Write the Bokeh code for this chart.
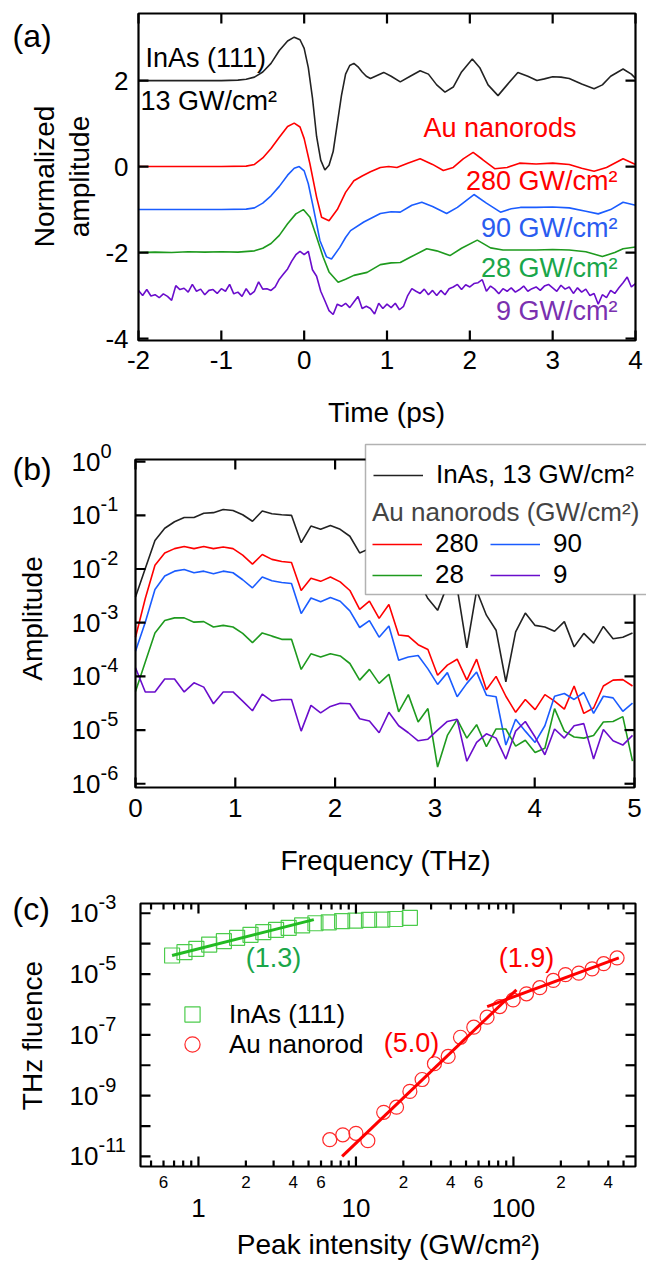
import math
from bokeh.plotting import figure
from bokeh.models import (Range1d, FixedTicker, LinearAxis, LogAxis, Label,
                          Legend, LegendItem, BoxAnnotation)
from bokeh.layouts import column
from bokeh.embed import file_html
from bokeh.resources import INLINE

FONT = "Liberation Sans"

# ===================== panel (a): time-domain waveforms =====================
offsets_a = [2, 0, -1, -2, -3]
labels_a = ["13 GW/cm²", "280 GW/cm²", "90 GW/cm²", "28 GW/cm²", "9 GW/cm²"]

time_inas = [-2.0, -1.0, -0.8, -0.7, -0.6, -0.5, -0.4, -0.3, -0.2, -0.12, -0.05, 0.0, 0.05, 0.1,
             0.15, 0.2, 0.25, 0.3, 0.35, 0.4, 0.45, 0.5, 0.55, 0.6, 0.65, 0.7, 0.75, 0.8, 0.88,
             0.96, 1.05, 1.16, 1.28, 1.4, 1.5, 1.6, 1.7, 1.8, 1.9, 2.03, 2.12, 2.22, 2.34, 2.45,
             2.58, 2.7, 2.81, 2.9, 3.0, 3.1, 3.2, 3.35, 3.5, 3.6, 3.7, 3.85, 3.95, 4.0]
wave_inas = [0, 0, 0.01, 0.03, 0.08, 0.2, 0.4, 0.7, 0.92, 1.01, 0.95, 0.75, 0.3, -0.4,
             -1.3, -1.85, -2.08, -1.97, -1.65, -1.0, -0.35, 0.15, 0.35, 0.4, 0.32, 0.2, 0.1, 0.05, 0.12,
             0.19, 0.1, -0.03, 0.1, 0.23, 0.15, -0.1, -0.27, -0.15, 0.2, 0.5, 0.3, -0.1, -0.35, -0.1,
             0.19, 0.1, 0.0, 0.04, 0.09, 0.08, 0.05, -0.08, -0.19, -0.1, 0.1, 0.27, 0.15, 0.05]

time_280 = [-2, -1, -0.7, -0.6, -0.5, -0.4, -0.3, -0.2, -0.12, -0.05, 0.0, 0.07, 0.15, 0.21, 0.3,
            0.4, 0.5, 0.6, 0.7, 0.8, 0.92, 1.02, 1.12, 1.25, 1.4, 1.55, 1.68, 1.8, 1.92, 2.04,
            2.15, 2.3, 2.45, 2.6, 2.8, 3.0, 3.2, 3.35, 3.5, 3.65, 3.85, 4.0]
wave_280 = [0, 0, 0.01, 0.05, 0.2, 0.42, 0.68, 0.93, 1.01, 0.92, 0.65, 0.06, -0.71, -1.18, -1.26,
            -1.0, -0.6, -0.33, -0.22, -0.12, -0.02, 0.0, -0.02, 0.08, 0.18, 0.05, -0.09, -0.02, 0.18, 0.33,
            0.17, -0.05, -0.02, 0.08, 0.06, 0.08, 0.05, -0.04, -0.11, -0.02, 0.18, 0.05]

time_90 = [-2, -1, -0.7, -0.6, -0.5, -0.4, -0.3, -0.2, -0.12, -0.06, 0.0, 0.05, 0.11, 0.19, 0.27,
           0.33, 0.43, 0.5, 0.56, 0.72, 0.92, 1.05, 1.16, 1.3, 1.42, 1.55, 1.72, 1.85, 2.05, 2.2,
           2.37, 2.5, 2.61, 2.8, 3.0, 3.2, 3.4, 3.55, 3.7, 3.85, 4.0]
wave_90 = [0.0, 0.0, 0.01, 0.04, 0.15, 0.32, 0.54, 0.8, 0.96, 1.0, 0.9, 0.6, 0.05, -0.72, -1.1,
           -1.15, -0.88, -0.65, -0.49, -0.29, -0.09, -0.05, -0.06, 0.1, 0.17, 0.07, -0.09, 0.05, 0.35, 0.15,
           -0.06, 0.02, 0.05, 0.05, 0.06, 0.04, -0.04, -0.10, 0.0, 0.17, 0.1]

time_28 = [-2.0, -1.8, -1.6, -1.4, -1.2, -1.0, -0.8, -0.6, -0.5, -0.4, -0.3, -0.2, -0.1, -0.01,
           0.07, 0.15, 0.23, 0.3, 0.41, 0.5, 0.6, 0.76, 0.92, 1.05, 1.16, 1.28, 1.48, 1.6, 1.76,
           1.9, 2.09, 2.25, 2.4, 2.61, 2.8, 3.0, 3.2, 3.4, 3.6, 3.75, 3.85, 4.0]
wave_28 = [0.0, 0.01, 0.0, 0.02, 0.01, 0.02, 0.01, 0.04, 0.1, 0.21, 0.4, 0.67, 0.9, 1.0,
           0.82, 0.36, -0.11, -0.45, -0.69, -0.62, -0.53, -0.46, -0.28, -0.24, -0.23, -0.11, 0.09, 0.04, -0.07,
           0.1, 0.29, 0.11, 0.06, 0.06, 0.06, 0.07, 0.06, 0.02, -0.09, 0.0, 0.09, 0.13]

time_9 = [-2.0, -1.95, -1.9, -1.85, -1.8, -1.75, -1.7, -1.65, -1.6, -1.55, -1.5, -1.45, -1.4, -1.35,
          -1.3, -1.25, -1.2, -1.15, -1.1, -1.05, -1.0, -0.95, -0.9, -0.85, -0.8, -0.75, -0.7, -0.65,
          -0.6, -0.55, -0.5, -0.45, -0.4, -0.35, -0.3, -0.25, -0.2, -0.15, -0.1, -0.05, 0.0, 0.05,
          0.1, 0.15, 0.2, 0.25, 0.3, 0.35, 0.4, 0.45, 0.5, 0.55, 0.6, 0.65, 0.7, 0.75, 0.8, 0.85,
          0.9, 0.95, 1.0, 1.05, 1.1, 1.15, 1.2, 1.25, 1.3, 1.35, 1.4, 1.45, 1.5, 1.55, 1.6, 1.65,
          1.7, 1.75, 1.8, 1.85, 1.9, 1.95, 2.0, 2.05, 2.1, 2.15, 2.2, 2.25, 2.3, 2.35, 2.4, 2.45,
          2.5, 2.55, 2.6, 2.65, 2.7, 2.75, 2.8, 2.85, 2.9, 2.95, 3.0, 3.05, 3.1, 3.15, 3.2, 3.25,
          3.3, 3.35, 3.4, 3.45, 3.5, 3.55, 3.6, 3.65, 3.7, 3.75, 3.8, 3.85, 3.9, 3.95, 4.0]
wave_9 = [0.12, 0.00, 0.14, -0.01, 0.02, -0.05, 0.04, -0.02, -0.11, 0.23,
          0.14, 0.17, 0.08, 0.26, 0.10, 0.15, 0.02, 0.12, 0.14, 0.05,
          0.16, 0.10, 0.26, 0.04, 0.08, -0.02, 0.16, 0.02, 0.10, 0.32,
          0.15, 0.16, 0.12, 0.20, 0.38, 0.50, 0.62, 0.80, 0.95, 1.03,
          0.95, 1.03, 0.60, 0.45, 0.10, -0.12, -0.35, -0.44, -0.20, -0.25,
          -0.18, -0.28, -0.15, -0.02, -0.30, -0.25, -0.30, -0.43, -0.18, -0.30,
          -0.20, -0.28, -0.18, -0.33, -0.25, 0.00, 0.16, 0.10, 0.05, 0.15,
          0.02, 0.12, 0.00, 0.12, 0.02, 0.16, 0.20, 0.26, 0.14, 0.25,
          0.20, 0.28, 0.30, 0.37, 0.10, 0.22, 0.15, 0.04, 0.16, 0.10,
          0.18, 0.08, 0.14, 0.22, 0.10, 0.16, 0.20, 0.12, 0.22, 0.26,
          0.18, 0.10, 0.24, 0.15, 0.20, 0.05, 0.18, 0.08, 0.15, 0.00,
          0.05, -0.20, 0.02, -0.05, 0.12, 0.05, 0.18, 0.30, 0.43, 0.20,
          0.28]

# ===================== panel (b): spectra (log10 amplitude) =====================
freq_thz = [0.000, 0.098, 0.195, 0.293, 0.391, 0.488, 0.586, 0.684, 0.781, 0.879, 0.977, 1.074,
            1.172, 1.270, 1.367, 1.465, 1.563, 1.660, 1.758, 1.855, 1.953, 2.051, 2.148, 2.246,
            2.344, 2.441, 2.539, 2.637, 2.734, 2.832, 2.930, 3.027, 3.125, 3.223, 3.320, 3.418,
            3.516, 3.613, 3.711, 3.809, 3.906, 4.004, 4.102, 4.199, 4.297, 4.395, 4.492, 4.590,
            4.688, 4.785, 4.883, 4.980]
log_amp_inas = [-2.52, -1.99, -1.47, -1.24, -1.12, -1.04, -1.04, -0.96, -0.95, -0.89,
                -0.91, -0.99, -1.11, -0.92, -0.97, -0.99, -1.00, -1.51, -1.20, -1.26,
                -1.19, -1.26, -1.39, -1.70, -1.62, -1.85, -1.80, -2.05, -2.10, -2.20,
                -2.55, -2.77, -2.30, -2.35, -3.47, -2.40, -2.86, -3.14, -4.10, -3.17,
                -2.82, -3.05, -3.08, -3.16, -2.98, -3.45, -3.20, -3.38, -3.07, -3.30,
                -3.27, -3.19]
log_amp_280 = [-3.27, -2.55, -1.93, -1.70, -1.62, -1.58, -1.62, -1.58, -1.62, -1.59,
               -1.62, -1.74, -1.91, -1.73, -1.82, -1.86, -1.88, -2.40, -2.17, -2.23,
               -2.15, -2.24, -2.40, -2.75, -2.60, -2.92, -2.66, -3.23, -3.25, -3.41,
               -3.50, -3.98, -3.79, -3.68, -4.07, -3.68, -4.25, -4.00, -4.37, -4.67,
               -4.43, -4.62, -4.34, -4.46, -4.61, -4.18, -4.69, -4.59, -4.18, -4.07,
               -4.06, -4.18]
log_amp_90 = [-3.53, -2.99, -2.38, -2.13, -2.04, -2.01, -2.07, -2.04, -2.09, -2.04,
              -2.07, -2.20, -2.35, -2.15, -2.22, -2.25, -2.27, -2.83, -2.54, -2.61,
              -2.53, -2.60, -2.78, -3.09, -2.96, -3.27, -3.06, -3.70, -3.64, -3.61,
              -3.86, -4.15, -3.93, -4.38, -4.13, -3.92, -4.35, -4.38, -5.28, -4.80,
              -5.02, -5.23, -4.92, -4.37, -4.32, -4.43, -4.30, -4.69, -4.37, -4.40,
              -4.65, -4.50]
log_amp_28 = [-4.28, -3.73, -3.19, -2.96, -2.91, -2.91, -2.99, -2.98, -3.08, -3.05,
              -3.08, -3.20, -3.37, -3.19, -3.25, -3.31, -3.31, -3.87, -3.58, -3.64,
              -3.58, -3.62, -3.76, -4.07, -3.87, -4.13, -3.96, -4.66, -4.34, -4.85,
              -4.60, -5.69, -5.10, -4.80, -5.15, -4.90, -5.31, -4.98, -4.98, -5.30,
              -5.19, -5.42, -5.34, -4.60, -5.02, -5.13, -5.15, -5.10, -4.85, -4.84,
              -4.75, -5.58]
log_amp_9 = [-3.84, -4.29, -4.29, -4.05, -4.05, -4.29, -4.12, -4.20, -4.51, -4.29,
             -4.29, -4.46, -4.64, -4.33, -4.46, -4.43, -4.43, -5.02, -4.54, -4.68,
             -4.56, -4.50, -4.51, -4.79, -4.83, -5.05, -4.67, -4.92, -5.05, -5.20,
             -5.17, -5.00, -4.84, -4.80, -5.58, -5.23, -5.07, -5.15, -5.54, -5.02,
             -4.84, -5.13, -5.46, -4.98, -5.15, -4.92, -4.88, -5.54, -4.99, -5.20,
             -5.28, -5.10]
legend_b_au = ["280", "90", "28", "9"]

# ===================== panel (c): THz fluence vs peak intensity =====================
inas_intensity = [0.68, 0.815, 0.97, 1.17, 1.45, 1.76, 2.14, 2.58, 3.11, 3.74, 4.55, 5.53,
                  6.72, 8.17, 9.93, 12.1, 14.7, 17.8, 22.0]
inas_fluence = [4.07e-5, 5.25e-5, 6.76e-5, 9.33e-5, 1.20e-4, 1.55e-4, 1.95e-4, 2.40e-4,
                2.82e-4, 3.31e-4, 3.98e-4, 4.68e-4, 5.01e-4, 5.50e-4, 5.75e-4, 6.03e-4,
                6.17e-4, 6.46e-4, 7.08e-4]
au_intensity = [6.82, 8.25, 10.0, 11.9, 15.0, 18.1, 22.0, 26.3, 31.5, 38.5, 46.1, 56.0, 68.0,
                81.9, 99.6, 121, 147, 179, 214, 260, 316, 374, 455]
au_fluence = [3.55e-11, 5.13e-11, 5.75e-11, 3.31e-11, 2.82e-10, 4.17e-10, 1.38e-9, 3.39e-9,
              1.12e-8, 1.95e-8, 8.32e-8, 1.78e-7, 3.80e-7, 8.51e-7, 1.41e-6, 2.24e-6, 3.55e-6,
              6.17e-6, 9.55e-6, 1.07e-5, 1.48e-5, 2.19e-5, 3.39e-5]
fit_inas_i = [0.68, 5.4]
fit_inas_f = [4.07e-5, 6.17e-4]
fit_au_low_i = [8.17, 104.5]
fit_au_low_f = [1.0e-11, 3.02e-6]
fit_au_high_i = [68.1, 467]
fit_au_high_f = [8.51e-7, 3.39e-5]
slope_labels = ["(1.3)", "(5.0)", "(1.9)"]

# ===================== styling =====================
C_BLACK = "#222222"
C_RED = "#ff0000"
C_BLUE = "#1a5cff"
C_GREEN = "#1e9a1e"
C_PURPLE = "#6a0dcc"
T_BLUE = "#2a5cf0"
T_GREEN = "#1aa64a"
T_PURPLE = "#7a30b0"
line_colors = [C_BLACK, C_RED, C_BLUE, C_GREEN, C_PURPLE]
text_colors = ["black", C_RED, T_BLUE, T_GREEN, T_PURPLE]

TICK_PX = 26
TITLE_PX = 28
ANN_PX = 27
SUP_PX = 20
PAGE_W = 646
BOX_W = 2.2


def base_fig(h, xr, yr, xtype="linear", ytype="linear"):
    # the frame covers the whole canvas; the visible plot box is drawn inside it
    p = figure(frame_width=PAGE_W, frame_height=h, x_range=xr, y_range=yr,
               x_axis_type=xtype, y_axis_type=ytype,
               x_axis_location=None, y_axis_location=None, title=None,
               output_backend="svg", toolbar_location=None, min_border=0)
    p.xgrid.visible = False
    p.ygrid.visible = False
    p.outline_line_color = None
    p.background_fill_color = "white"
    p.border_fill_color = "white"
    return p


def label_axis(ax, size, standoff):
    ax.axis_line_color = None
    ax.major_tick_line_color = None
    ax.minor_tick_line_color = None
    ax.major_tick_in = 0
    ax.major_tick_out = 0
    ax.minor_tick_in = 0
    ax.minor_tick_out = 0
    ax.major_label_text_font = FONT
    ax.major_label_text_font_size = f"{size}px"
    ax.major_label_text_color = "black"
    ax.major_label_standoff = standoff
    return ax


def add_text(p, x, y, text, size, color="black", align="left", angle=0.0):
    p.add_layout(Label(x=x, y=y, text=text, text_font=FONT, text_font_size=f"{size}px",
                       text_color=color, text_align=align, text_baseline="middle", angle=angle))


def plot_box(p, l, r, b, t):
    p.quad(left=[l], right=[r], bottom=[b], top=[t], fill_color=None,
           line_color="black", line_width=BOX_W)


def tick_marks(p, x0, y0, x1, y1):
    p.segment(x0=x0, y0=y0, x1=x1, y1=y1, line_color="black", line_width=BOX_W)


# ---------------- panel (a): page y 0..430 ----------------
def tA(px):
    return -2 + (px - 138) * 6 / 497


def vA(py):
    return 3.56 - (py - 13) * 7.605 / 327


A_L, A_R, A_T, A_B = 138, 635, 13, 340          # plot box edges on the page
pa = base_fig(430, Range1d(tA(0), tA(PAGE_W)), Range1d(vA(430), vA(0)))
ticks_a_x = [-2, -1, 0, 1, 2, 3, 4]
ticks_a_y = [-4, -2, 0, 2]
ax = label_axis(LinearAxis(fixed_location=vA(A_B), ticker=FixedTicker(ticks=ticks_a_x, minor_ticks=[])), TICK_PX, 10)
ax.major_label_overrides = {t: str(t) for t in ticks_a_x}
pa.add_layout(ax, "below")
ax = label_axis(LinearAxis(fixed_location=tA(A_L), ticker=FixedTicker(ticks=ticks_a_y, minor_ticks=[])), TICK_PX, 10)
ax.major_label_overrides = {t: str(t) for t in ticks_a_y}
pa.add_layout(ax, "left")

series_a = [(time_inas, wave_inas), (time_280, wave_280), (time_90, wave_90),
            (time_28, wave_28), (time_9, wave_9)]
for (tt, ww), off, col in zip(series_a, offsets_a, line_colors):
    pa.line(tt, [w + off for w in ww], line_color=col, line_width=1.6)

nx, ny = len(ticks_a_x), len(ticks_a_y)
tick_marks(pa, ticks_a_x, [vA(A_B)] * nx, ticks_a_x, [vA(A_B - 10)] * nx)
tick_marks(pa, ticks_a_x, [vA(A_T)] * nx, ticks_a_x, [vA(A_T + 10)] * nx)
tick_marks(pa, [tA(A_L)] * ny, ticks_a_y, [tA(A_L + 10)] * ny, ticks_a_y)
tick_marks(pa, [tA(A_R)] * ny, ticks_a_y, [tA(A_R - 10)] * ny, ticks_a_y)
plot_box(pa, tA(A_L), tA(A_R), vA(A_B), vA(A_T))

add_text(pa, tA(145), vA(57), "InAs (111)", ANN_PX, "black")
add_text(pa, tA(140), vA(100), labels_a[0], ANN_PX, "black")
add_text(pa, tA(423), vA(127), "Au nanorods", ANN_PX, C_RED)
for lab, yy, col in zip(labels_a[1:], [180, 227, 267, 310], text_colors[1:]):
    add_text(pa, tA(617), vA(yy), lab, ANN_PX, col, align="right")
add_text(pa, tA(12), vA(35), "(a)", 32)
add_text(pa, tA(44), vA(176), "Normalized", TITLE_PX, angle=math.pi / 2, align="center")
add_text(pa, tA(79), vA(176), "amplitude", TITLE_PX, angle=math.pi / 2, align="center")
add_text(pa, tA(386), vA(412), "Time (ps)", TITLE_PX, align="center")

# ---------------- panel (b): page y 430..880 ----------------
def fB(px):
    return (px - 135) * 5 / 499


def aB(py):
    return 10 ** (0.04 - (py - 459) * 6.11 / 328)


def yB(value):   # page y of a data value (for label placement)
    return 459 + (0.04 - math.log10(value)) * 328 / 6.11


B_L, B_R, B_T, B_B = 135, 634, 459, 787
pb = base_fig(450, Range1d(fB(0), fB(PAGE_W)), Range1d(aB(880), aB(430)), ytype="log")
ticks_b_x = [0, 1, 2, 3, 4, 5]
ticks_b_y = [1e-06, 1e-05, 0.0001, 0.001, 0.01, 0.1, 1.0]
exps_b_y = ["-6", "-5", "-4", "-3", "-2", "-1", "0"]
ax = label_axis(LinearAxis(fixed_location=aB(B_B), ticker=FixedTicker(ticks=ticks_b_x, minor_ticks=[])), TICK_PX, 11)
ax.major_label_overrides = {t: str(t) for t in ticks_b_x}
pb.add_layout(ax, "below")
ax = label_axis(LogAxis(fixed_location=fB(B_L), ticker=FixedTicker(ticks=ticks_b_y, minor_ticks=[])), TICK_PX, 35)
ax.major_label_overrides = {t: "10" for t in ticks_b_y}
pb.add_layout(ax, "left")
for t, e in zip(ticks_b_y, exps_b_y):
    add_text(pb, fB(100), aB(yB(t) - 11), e, SUP_PX)

series_b = [log_amp_inas, log_amp_280, log_amp_90, log_amp_28, log_amp_9]
rb = []
for la, col in zip(series_b, line_colors):
    rb.append(pb.line(freq_thz, [10 ** v for v in la], line_color=col, line_width=1.6))

nx, ny = len(ticks_b_x), len(ticks_b_y)
tick_marks(pb, ticks_b_x, [aB(B_B)] * nx, ticks_b_x, [aB(B_B - 10)] * nx)
tick_marks(pb, ticks_b_x, [aB(B_T)] * nx, ticks_b_x, [aB(B_T + 10)] * nx)
tick_marks(pb, [fB(B_L)] * ny, ticks_b_y, [fB(B_L + 10)] * ny, ticks_b_y)
tick_marks(pb, [fB(B_R)] * ny, ticks_b_y, [fB(B_R - 10)] * ny, ticks_b_y)
plot_box(pb, fB(B_L), fB(B_R), aB(B_B), aB(B_T))

# legend box (sticks out above and to the right of the plot box, as in the original)
pb.add_layout(BoxAnnotation(left=fB(365), right=fB(700), top=aB(444), bottom=aB(594),
                            fill_color="white", fill_alpha=1.0, line_color="black", line_width=1.5))


def style_legend(lg, size=26):
    lg.border_line_color = None
    lg.background_fill_alpha = 0
    lg.padding = 0
    lg.margin = 0
    lg.spacing = 0
    lg.label_text_font = FONT
    lg.label_text_font_size = f"{size}px"
    lg.label_text_color = "black"
    lg.title_text_font = FONT
    lg.title_text_font_size = f"{size}px"
    lg.title_text_font_style = "normal"
    lg.title_standoff = 0
    return lg


leg1 = style_legend(Legend(items=[LegendItem(label="InAs, 13 GW/cm²", renderers=[rb[0]])],
                           location=(373, 880 - 490), glyph_width=50, glyph_height=20, label_standoff=13))
pb.add_layout(leg1)
leg2 = style_legend(Legend(items=[LegendItem(label=legend_b_au[0], renderers=[rb[1]]),
                                  LegendItem(label=legend_b_au[2], renderers=[rb[3]]),
                                  LegendItem(label=legend_b_au[1], renderers=[rb[2]]),
                                  LegendItem(label=legend_b_au[3], renderers=[rb[4]])],
                           title="Au nanorods (GW/cm²)", ncols=2,
                           location=(372, 880 - 590), glyph_width=50, glyph_height=20,
                           label_standoff=13, label_width=55))
pb.add_layout(leg2)
add_text(pb, fB(12), aB(468), "(b)", 32)
add_text(pb, fB(32), aB(618), "Amplitude", TITLE_PX, angle=math.pi / 2, align="center")
add_text(pb, fB(385), aB(860), "Frequency (THz)", TITLE_PX, align="center")

# ---------------- panel (c): page y 880..1266 ----------------
def iC(px):
    return 10 ** (-0.368 + (px - 140) * 3.143 / 495)


def fC(py):
    return 10 ** (-2.68 - (py - 903) * 8.651 / 263)


def yC(value):
    return 903 + (-2.68 - math.log10(value)) * 263 / 8.651


C_L, C_R, C_T, C_B = 140, 635, 903, 1166
pc = base_fig(386, Range1d(iC(0), iC(PAGE_W)), Range1d(fC(1266), fC(880)), xtype="log", ytype="log")
ticks_c_major = [1, 10, 100]
ticks_c_minor = [0.5, 0.6, 0.7, 0.8, 0.9, 2, 3, 4, 5, 6, 7, 8, 9, 20, 30, 40, 50, 60, 70, 80, 90,
                 200, 300, 400, 500]
ticks_c_small = [0.6, 2, 4, 6, 20, 40, 60, 200, 400]
labels_c_small = ["6", "2", "4", "6", "2", "4", "6", "2", "4"]
labels_c_major = ["1", "10", "100"]
ticks_c_y_lab = [1e-11, 1e-09, 1e-07, 1e-05, 1e-03]
exps_c_y = ["-11", "-9", "-7", "-5", "-3"]
ticks_c_y_all = [1e-11, 1e-10, 1e-09, 1e-08, 1e-07, 1e-06, 1e-05, 1e-04, 1e-03]

ax = label_axis(LogAxis(fixed_location=fC(C_B), ticker=FixedTicker(ticks=ticks_c_major, minor_ticks=[])), TICK_PX, 32)
ax.major_label_overrides = dict(zip(ticks_c_major, labels_c_major))
pc.add_layout(ax, "below")
ax = label_axis(LogAxis(fixed_location=fC(C_B), ticker=FixedTicker(ticks=ticks_c_small, minor_ticks=[])), 17, 9)
ax.major_label_overrides = dict(zip(ticks_c_small, labels_c_small))
pc.add_layout(ax, "below")
ax = label_axis(LogAxis(fixed_location=iC(C_L), ticker=FixedTicker(ticks=ticks_c_y_lab, minor_ticks=[])), TICK_PX, 42)
ax.major_label_overrides = {t: "10" for t in ticks_c_y_lab}
pc.add_layout(ax, "left")
for t, e in zip(ticks_c_y_lab, exps_c_y):
    add_text(pc, iC(98), fC(yC(t) - 11), e, SUP_PX)

r_sq = pc.scatter(inas_intensity, inas_fluence, marker="square", size=15, fill_color=None,
                  line_color="#4ccc4c", line_width=1.2)
r_ci = pc.scatter(au_intensity, au_fluence, marker="circle", size=14, fill_color=None,
                  line_color="#ff2a2a", line_width=1.2)
pc.line(fit_inas_i, fit_inas_f, line_color="#22bb22", line_width=3)
pc.line(fit_au_low_i, fit_au_low_f, line_color=C_RED, line_width=3)
pc.line(fit_au_high_i, fit_au_high_f, line_color=C_RED, line_width=3)

nM, nm, ny = len(ticks_c_major), len(ticks_c_minor), len(ticks_c_y_all)
tick_marks(pc, ticks_c_major, [fC(C_B)] * nM, ticks_c_major, [fC(C_B - 10)] * nM)
tick_marks(pc, ticks_c_minor, [fC(C_B)] * nm, ticks_c_minor, [fC(C_B - 6)] * nm)
tick_marks(pc, ticks_c_major, [fC(C_T)] * nM, ticks_c_major, [fC(C_T + 10)] * nM)
tick_marks(pc, ticks_c_minor, [fC(C_T)] * nm, ticks_c_minor, [fC(C_T + 6)] * nm)
tick_marks(pc, [iC(C_L)] * ny, ticks_c_y_all, [iC(C_L + 10)] * ny, ticks_c_y_all)
tick_marks(pc, [iC(C_R)] * ny, ticks_c_y_all, [iC(C_R - 10)] * ny, ticks_c_y_all)
plot_box(pc, iC(C_L), iC(C_R), fC(C_B), fC(C_T))

add_text(pc, iC(273), fC(957), slope_labels[0], ANN_PX, T_GREEN, align="center")
add_text(pc, iC(411), fC(1042), slope_labels[1], ANN_PX, C_RED, align="center")
add_text(pc, iC(526), fC(957), slope_labels[2], ANN_PX, C_RED, align="center")
add_text(pc, iC(12), fC(908), "(c)", 32)
add_text(pc, iC(32), fC(1035), "THz fluence", TITLE_PX, angle=math.pi / 2, align="center")
add_text(pc, iC(388), fC(1244), "Peak intensity (GW/cm²)", TITLE_PX, align="center")

# one legend per row so that markers are drawn at their data size
leg3 = style_legend(Legend(items=[LegendItem(label="InAs (111)", renderers=[r_sq])],
                           location=(173, 1266 - 1033), glyph_width=38, glyph_height=38, label_standoff=18))
pc.add_layout(leg3)
leg4 = style_legend(Legend(items=[LegendItem(label="Au nanorod", renderers=[r_ci])],
                           location=(173, 1266 - 1063), glyph_width=38, glyph_height=38, label_standoff=18))
pc.add_layout(leg4)

layout = column(pa, pb, pc)
open("out.html", "w").write(file_html(layout, INLINE))
